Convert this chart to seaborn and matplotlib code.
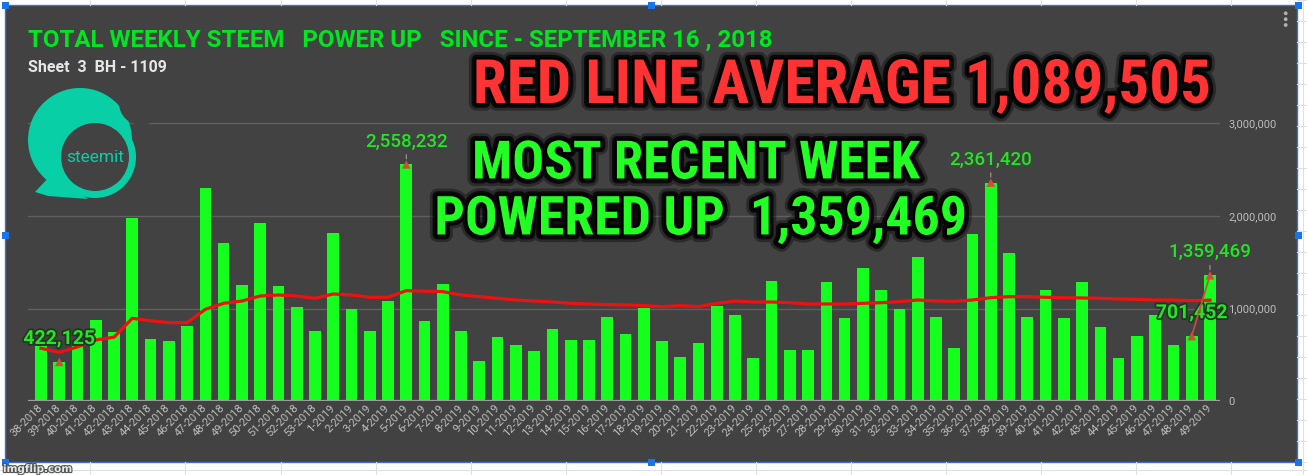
import os
import numpy as np
import pandas as pd
import matplotlib
matplotlib.use("Agg")
import matplotlib.pyplot as plt
import matplotlib.patheffects as pe
from matplotlib import font_manager
from matplotlib.patches import Rectangle, Circle, Polygon
from matplotlib.ticker import FuncFormatter, FixedLocator
import seaborn as sns

# ---------------- data ----------------
weeks = ["38-2018", "39-2018", "40-2018", "41-2018", "42-2018", "43-2018", "44-2018",
         "45-2018", "46-2018", "47-2018", "48-2018", "49-2018", "50-2018", "51-2018",
         "52-2018", "53-2018", "1-2019", "2-2019", "3-2019", "4-2019", "5-2019",
         "6-2019", "7-2019", "8-2019", "9-2019", "10-2019", "11-2019", "12-2019",
         "13-2019", "14-2019", "15-2019", "16-2019", "17-2019", "18-2019", "19-2019",
         "20-2019", "21-2019", "22-2019", "23-2019", "24-2019", "25-2019", "26-2019",
         "27-2019", "28-2019", "29-2019", "30-2019", "31-2019", "32-2019", "33-2019",
         "34-2019", "35-2019", "36-2019", "37-2019", "38-2019", "39-2019", "40-2019",
         "41-2019", "42-2019", "43-2019", "44-2019", "45-2019", "46-2019", "47-2019",
         "48-2019", "49-2019"]

power_up = [590000, 422125, 600000, 876000, 743000, 1975000, 670000,
            652000, 814000, 2306000, 1712000, 1254000, 1921000, 1243000,
            1020000, 757000, 1813000, 990000, 757000, 1081000, 2558232,
            868000, 1260000, 757000, 432000, 695000, 605000, 544000,
            778000, 659000, 659000, 912000, 724000, 1002000, 649000,
            472000, 623000, 1030000, 930000, 461000, 1300000, 551000,
            551000, 1290000, 894000, 1434000, 1200000, 991000, 1560000,
            904000, 569000, 1800000, 2361420, 1596000, 912000, 1200000,
            894000, 1290000, 804000, 469000, 703000, 930000, 605000,
            701452, 1359469]

average_line = [570000, 526000, 585000, 660000, 690000, 894000, 868000,
                847000, 847000, 991000, 1056000, 1081000, 1135000, 1146000,
                1135000, 1110000, 1157000, 1146000, 1121000, 1121000, 1193000,
                1187000, 1182000, 1146000, 1128000, 1110000, 1092000, 1081000,
                1070000, 1056000, 1049000, 1042000, 1038000, 1031000, 1020000,
                1031000, 1020000, 1056000, 1081000, 1070000, 1070000, 1063000,
                1049000, 1049000, 1049000, 1056000, 1063000, 1074000, 1092000,
                1081000, 1078000, 1092000, 1117000, 1128000, 1128000, 1121000,
                1117000, 1114000, 1110000, 1103000, 1099000, 1092000, 1092000,
                1085000, 1089505]

plain_label_weeks = ["5-2019", "37-2019", "49-2019"]
bold_label_weeks = ["39-2018", "48-2019"]
recent_link_weeks = ["48-2019", "49-2019"]

title_text = "TOTAL WEEKLY STEEM   POWER UP   SINCE - SEPTEMBER 16 , 2018"
subtitle_text = "Sheet  3  BH - 1109"
red_text = "RED LINE AVERAGE 1,089,505"
green_text_1 = "MOST RECENT WEEK"
green_text_2 = "POWERED UP  1,359,469"
yticks = [0, 1000000, 2000000, 3000000]

df = pd.DataFrame({"week": weeks, "power": power_up, "avg": average_line})
df["pos"] = np.arange(len(df))

# ---------------- fonts ----------------
names = {f.name for f in font_manager.fontManager.ttflist}
ROBOTO = "Roboto" if "Roboto" in names else "DejaVu Sans"

def font_by_file(stems):
    files = {}
    for f in font_manager.fontManager.ttflist:
        stem = os.path.splitext(os.path.basename(f.fname))[0].lower()
        files.setdefault(stem, f.fname)
    for s in stems:
        if s.lower() in files:
            return font_manager.FontProperties(fname=files[s.lower()])
    return None

impact_fp = font_by_file(["NotoSans-ExtraCondensedBlack", "NotoSans-ExtraCondensedExtraBold",
                          "NotoSans-ExtraCondensedBold", "NotoSansDisplay-ExtraCondensedBlack",
                          "NotoSansDisplay-ExtraCondensedBold", "RobotoCondensed-Black",
                          "RobotoCondensed-Bold", "OpenSans-CondBold", "OpenSansCondensed-Bold",
                          "NotoSans-CondensedBlack", "NotoSans-CondensedExtraBold",
                          "NotoSans-CondensedBold", "LiberationSansNarrow-Bold",
                          "DejaVuSansCondensed-Bold", "Roboto-Black", "Roboto-Bold"])
if impact_fp is None:
    impact_fp = font_manager.FontProperties(family="DejaVu Sans", weight="bold")

# ---------------- figure ----------------
W, H = 1307, 475
fig = plt.figure(figsize=(W / 100, H / 100), dpi=100, facecolor="white")

DARK = "#424242"
BAR = "#14ff1e"
LABEL_G = "#22e622"
RED = "#ee1111"
MARK = "#d24a3c"
TXT_GRAY = "#bdbdbd"

# background (pixel coordinates)
bg = fig.add_axes([0, 0, 1, 1], zorder=0)
bg.set_xlim(0, W); bg.set_ylim(H, 0); bg.axis("off")
for xv in [90, 185, 281, 376, 471, 566, 661, 756, 851, 946, 1041, 1136, 1231]:
    bg.plot([xv, xv], [0, 5], color="#e0e0e0", lw=0.8)
    bg.plot([xv, xv], [462, 475], color="#e0e0e0", lw=0.8)
for yv in range(0, 475, 21):
    bg.plot([1297, 1307], [yv, yv], color="#e0e0e0", lw=0.8)
bg.plot([1303, 1303], [0, 475], color="#e0e0e0", lw=0.8)
bg.plot([0, 1307], [470, 470], color="#e0e0e0", lw=0.8)
bg.add_patch(Rectangle((4.5, 4.5), 1292.5, 457.5, facecolor=DARK,
                       edgecolor="#3f72c6", lw=1.0))

# chart axes
zero_px, px_per_m = 401.0, 92.5
ymax = 3.05e6
top_px = zero_px - ymax / 1e6 * px_per_m
left_px, right_px = 28.0, 1220.0
ax = fig.add_axes([left_px / W, (H - zero_px) / H, (right_px - left_px) / W,
                   (zero_px - top_px) / H], zorder=2)
ax.set_facecolor("none")

sns.barplot(data=df, x="week", y="power", color=BAR, saturation=1, width=0.64,
            linewidth=0, ax=ax, zorder=3)
sns.lineplot(data=df, x="pos", y="avg", color=RED, lw=2.3, ax=ax, zorder=5)

link = df[df["week"].isin(recent_link_weeks)]
sns.lineplot(data=link, x="pos", y="power", color=MARK, lw=1.2, ax=ax, zorder=7)
marks = df[df["week"].isin(plain_label_weeks + bold_label_weeks)]
sns.scatterplot(data=marks, x="pos", y="power", marker="^", color=MARK, s=38,
                edgecolor="none", ax=ax, zorder=8)

ax.set_xlim(-0.71, 64.55)
ax.set_ylim(0, ymax)
ax.set_xlabel(""); ax.set_ylabel("")
for sp in ax.spines.values():
    sp.set_visible(False)
ax.yaxis.set_major_locator(FixedLocator(yticks))
ax.yaxis.set_major_formatter(FuncFormatter(lambda v, p: f"{int(v):,}"))
ax.yaxis.tick_right()
ax.yaxis.grid(True, color="#5f5f5f", lw=1.0)
ax.set_axisbelow(True)
ax.axhline(0, color="#9e9e9e", lw=1.6, zorder=4)
ax.tick_params(axis="y", length=0, pad=6, labelcolor=TXT_GRAY, labelsize=8)
ax.tick_params(axis="x", length=0, pad=4, labelcolor=TXT_GRAY, labelsize=8)
for lbl in ax.get_yticklabels():
    lbl.set_fontfamily(ROBOTO)
ax.set_xticks(df["pos"])
ax.set_xticklabels(df["week"])
for lbl in ax.get_xticklabels():
    lbl.set_rotation(45)
    lbl.set_ha("right")
    lbl.set_va("center")
    lbl.set_rotation_mode("anchor")
    lbl.set_fontfamily(ROBOTO)

# data labels
for _, r in df[df["week"].isin(plain_label_weeks)].iterrows():
    ax.annotate(f"{int(r['power']):,}", xy=(r["pos"], r["power"]), xytext=(0, 16.5),
                textcoords="offset points", ha="center", va="center", fontsize=13.5,
                fontfamily=ROBOTO, fontweight="medium", color=LABEL_G, zorder=9,
                arrowprops=dict(arrowstyle="-", color="#9e9e9e", lw=0.8,
                                shrinkA=1, shrinkB=4))
for _, r in df[df["week"].isin(bold_label_weeks)].iterrows():
    ax.annotate(f"{int(r['power']):,}", xy=(r["pos"], r["power"]), xytext=(0, 16.5),
                textcoords="offset points", ha="center", va="center", fontsize=14,
                fontfamily=ROBOTO, fontweight="bold", color=LABEL_G, zorder=6,
                path_effects=[pe.withStroke(linewidth=2.5, foreground="#233423")])

# foreground (pixel coordinates)
fg = fig.add_axes([0, 0, 1, 1], zorder=3)
fg.set_xlim(0, W); fg.set_ylim(H, 0); fg.axis("off"); fg.patch.set_alpha(0)

fg.text(28, 40, title_text, fontsize=17.3, fontfamily=ROBOTO, fontweight="bold",
        color="#00e620", ha="left", va="center")
fg.text(28, 67, subtitle_text, fontsize=11.5, fontfamily=ROBOTO, fontweight="bold",
        color="#e6e6e6", ha="left", va="center")

# steemit logo
TEAL = "#08cfa6"
fg.add_patch(Circle((80, 140), 52, color=TEAL, lw=0))
fg.add_patch(Polygon([(52, 174), (35, 192), (48, 196), (88, 199)], color=TEAL, lw=0))
fg.add_patch(Circle((95, 157), 41, color=TEAL, lw=0))
fg.add_patch(Circle((141, 103), 22, color=DARK, lw=0))
fg.add_patch(Circle((95, 157), 34, color=DARK, lw=0))
fg.text(95, 158, "steemit", fontsize=12.5, fontfamily=ROBOTO, fontweight="normal",
        color=TEAL, ha="center", va="center")

# big overlay texts, fitted to their boxes
renderer = fig.canvas.get_renderer()
glow = [pe.Stroke(linewidth=11, foreground="black", alpha=0.35),
        pe.Stroke(linewidth=7, foreground="black", alpha=0.75),
        pe.Stroke(linewidth=3.5, foreground="black"), pe.Normal()]

def fitted(x, y, s, width_px, cap_px, color):
    t = fg.text(x, y, s, fontproperties=impact_fp, color=color, ha="center",
                va="center", zorder=10, path_effects=glow)
    t.set_fontsize(40)
    w = t.get_window_extent(renderer=renderer).width
    size_w = 40 * width_px / w
    size_h = cap_px / 0.72 * 72 / 100
    t.set_fontsize(min(size_w, size_h))
    return t

fitted(842, 86, red_text, 745, 44, "#ff3333")
fitted(696, 164, green_text_1, 447, 42, "#22ff22")
fitted(701, 220, green_text_2, 532, 44, "#22ff22")

# sheet chrome
for yy in (13.3, 19.2, 25.0):
    fg.add_patch(Circle((1285.7, yy), 1.9, color="#b0b0b0", lw=0))
for hx, hy in [(5, 5), (651, 5), (1298, 5), (5, 235), (1298, 235),
               (5, 462), (651, 462), (1298, 462)]:
    fg.add_patch(Rectangle((hx - 3.5, hy - 3.5), 7, 7, color="#1a73e8", lw=0))
fg.text(3, 469, "imgflip.com", fontsize=7.5, fontweight="bold", color="#e8e8e8",
        ha="left", va="center",
        path_effects=[pe.withStroke(linewidth=1.6, foreground="#555555")])

fig.savefig("out.png", dpi=100, facecolor="white")
